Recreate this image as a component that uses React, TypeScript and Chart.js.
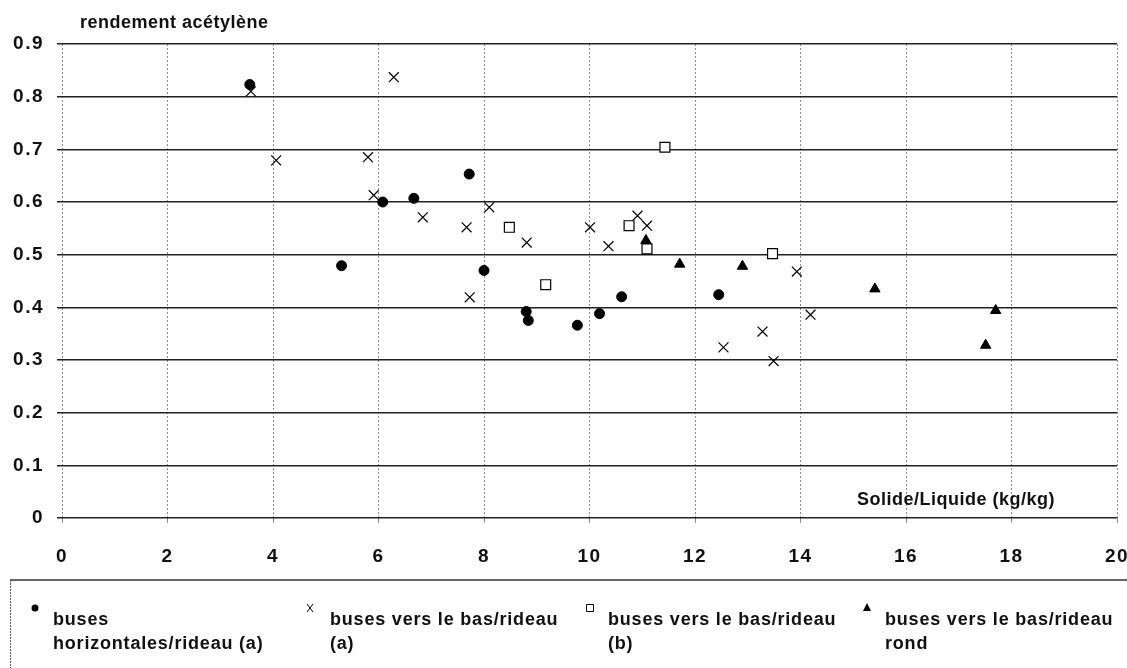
import React, { useEffect, useRef } from "react";
import { Chart, registerables } from "chart.js";

Chart.register(...registerables);

// ---- data ----
const circleX = [3.56, 5.30, 6.08, 6.67, 7.72, 8.00, 8.80, 8.84, 9.77, 10.19, 10.61, 12.45];
const circleY = [0.823, 0.479, 0.600, 0.607, 0.653, 0.470, 0.392, 0.375, 0.366, 0.388, 0.420, 0.424];

const crossX = [3.58, 4.06, 5.80, 5.91, 6.29, 6.84, 7.67, 7.73, 8.10, 8.81, 10.01, 10.36, 10.91, 11.09, 12.54, 13.28, 13.49, 13.93, 14.19];
const crossY = [0.810, 0.679, 0.685, 0.613, 0.837, 0.571, 0.552, 0.419, 0.590, 0.523, 0.552, 0.516, 0.574, 0.555, 0.324, 0.354, 0.298, 0.468, 0.386];

const squareX = [8.48, 9.17, 10.75, 11.09, 11.43, 13.47];
const squareY = [0.552, 0.443, 0.555, 0.511, 0.704, 0.502];

const triangleX = [11.07, 11.71, 12.90, 15.41, 17.51, 17.70];
const triangleY = [0.527, 0.482, 0.478, 0.435, 0.328, 0.394];

const legendLine1 = ["buses", "buses vers le bas/rideau", "buses vers le bas/rideau", "buses vers le bas/rideau"];
const legendLine2 = ["horizontales/rideau (a)", "(a)", "(b)", "rond"];
const legendMarkers = ["circle", "cross", "square", "triangle"];

const xTickLabels = ["0", "2", "4", "6", "8", "10", "12", "14", "16", "18", "20"];
const yTickLabels = ["0", "0.1", "0.2", "0.3", "0.4", "0.5", "0.6", "0.7", "0.8", "0.9"];

const yAxisTitle = "rendement acétylène";
const xAxisTitle = "Solide/Liquide (kg/kg)";

const FONT = '"Liberation Sans", Arial, sans-serif';

function pts(xs: number[], ys: number[]) {
  return xs.map((x, i) => ({ x, y: ys[i] }));
}

function drawMarker(ctx: CanvasRenderingContext2D, kind: string, x: number, y: number) {
  ctx.save();
  ctx.fillStyle = "#000";
  ctx.strokeStyle = "#000";
  ctx.lineWidth = 1;
  ctx.beginPath();
  if (kind === "circle") {
    ctx.arc(x, y, 3.5, 0, Math.PI * 2);
    ctx.fill();
  } else if (kind === "cross") {
    ctx.moveTo(x - 3, y - 4);
    ctx.lineTo(x + 3, y + 4);
    ctx.moveTo(x + 3, y - 4);
    ctx.lineTo(x - 3, y + 4);
    ctx.stroke();
  } else if (kind === "square") {
    ctx.fillStyle = "#fff";
    ctx.rect(x - 3.5, y - 3.5, 7, 7);
    ctx.fill();
    ctx.stroke();
  } else {
    ctx.moveTo(x, y - 5);
    ctx.lineTo(x + 4, y + 3);
    ctx.lineTo(x - 4, y + 3);
    ctx.closePath();
    ctx.fill();
  }
  ctx.restore();
}

const textPlugin = {
  id: "customTexts",
  beforeDraw(chart: any) {
    const ctx = chart.ctx as any;
    ctx.letterSpacing = "1.5px";
  },
  afterDraw(chart: any) {
    const ctx = chart.ctx as any;
    ctx.save();
    ctx.fillStyle = "#111";
    ctx.textBaseline = "middle";
    ctx.textAlign = "left";
    ctx.font = `bold 18px ${FONT}`;
    ctx.letterSpacing = "0.5px";
    ctx.fillText(yAxisTitle, 80, 23);
    ctx.fillText(xAxisTitle, 857, 500);

    // legend box
    ctx.strokeStyle = "#333";
    ctx.lineWidth = 1.5;
    ctx.beginPath();
    ctx.moveTo(10, 580);
    ctx.lineTo(1127, 580);
    ctx.stroke();
    ctx.strokeStyle = "#666";
    ctx.lineWidth = 1;
    ctx.setLineDash([2, 1]);
    ctx.beginPath();
    ctx.moveTo(10.5, 580);
    ctx.lineTo(10.5, 668);
    ctx.stroke();
    ctx.setLineDash([]);

    const markerX = [35, 310, 590, 867];
    const textX = [53, 330, 608, 885];
    ctx.font = `bold 18px ${FONT}`;
    ctx.letterSpacing = "0.8px";
    for (let i = 0; i < legendLine1.length; i++) {
      drawMarker(ctx, legendMarkers[i], markerX[i], 608);
      ctx.fillText(legendLine1[i], textX[i], 620);
      ctx.fillText(legendLine2[i], textX[i], 644);
    }
    ctx.restore();
  },
};

export default function App() {
  const ref = useRef<HTMLCanvasElement | null>(null);

  useEffect(() => {
    if (!ref.current) return;
    const chart = new Chart(ref.current, {
      type: "scatter",
      data: {
        datasets: [
          {
            label: "buses horizontales/rideau (a)",
            data: pts(circleX, circleY),
            pointStyle: "circle",
            pointRadius: 5,
            backgroundColor: "#000",
            borderColor: "#000",
            borderWidth: 1,
            order: 4,
          },
          {
            label: "buses vers le bas/rideau (a)",
            data: pts(crossX, crossY),
            pointStyle: "crossRot",
            pointRadius: 7,
            backgroundColor: "#000",
            borderColor: "#000",
            borderWidth: 1.2,
            order: 3,
          },
          {
            label: "buses vers le bas/rideau (b)",
            data: pts(squareX, squareY),
            pointStyle: "rect",
            pointRadius: 7,
            backgroundColor: "#fff",
            borderColor: "#000",
            borderWidth: 1.2,
            order: 2,
          },
          {
            label: "buses vers le bas/rideau rond",
            data: pts(triangleX, triangleY),
            pointStyle: "triangle",
            pointRadius: 6,
            backgroundColor: "#000",
            borderColor: "#000",
            borderWidth: 1,
            order: 1,
          },
        ],
      },
      options: {
        animation: false,
        responsive: false,
        events: [],
        layout: { padding: { left: 0, top: 44, right: 10, bottom: 90 } },
        plugins: {
          legend: { display: false },
          tooltip: { enabled: false },
          title: { display: false },
        },
        scales: {
          x: {
            type: "linear",
            min: 0,
            max: 20,
            ticks: {
              stepSize: 2,
              padding: 22,
              color: "#111",
              font: { family: FONT, size: 19, weight: "bold" },
              callback: (v: any) => xTickLabels[Math.round(Number(v) / 2)] ?? "",
            },
            grid: {
              color: "#8a8a8a",
              lineWidth: 1,
              tickLength: 5,
              drawTicks: true,
            },
            border: { display: false, dash: [2, 2] },
            afterFit: (scale: any) => {
              scale.height = 60;
              scale.paddingLeft = 0;
              scale.paddingRight = 0;
            },
          },
          y: {
            type: "linear",
            min: 0,
            max: 0.9,
            ticks: {
              stepSize: 0.1,
              padding: 13,
              color: "#111",
              font: { family: FONT, size: 19, weight: "bold" },
              callback: (v: any) => yTickLabels[Math.round(Number(v) * 10)] ?? "",
            },
            grid: {
              color: "#222",
              lineWidth: 1.5,
              tickLength: 5,
              drawTicks: true,
            },
            border: { display: false },
            afterFit: (scale: any) => {
              scale.width = 62;
              scale.paddingTop = 0;
              scale.paddingBottom = 0;
            },
          },
        },
      },
      plugins: [textPlugin],
    } as any);
    return () => chart.destroy();
  }, []);

  return (
    <div style={{ position: "absolute", left: 0, top: 0, width: 1127, height: 668, background: "#fff" }}>
      <canvas ref={ref} width={1127} height={668} style={{ display: "block" }} />
    </div>
  );
}
